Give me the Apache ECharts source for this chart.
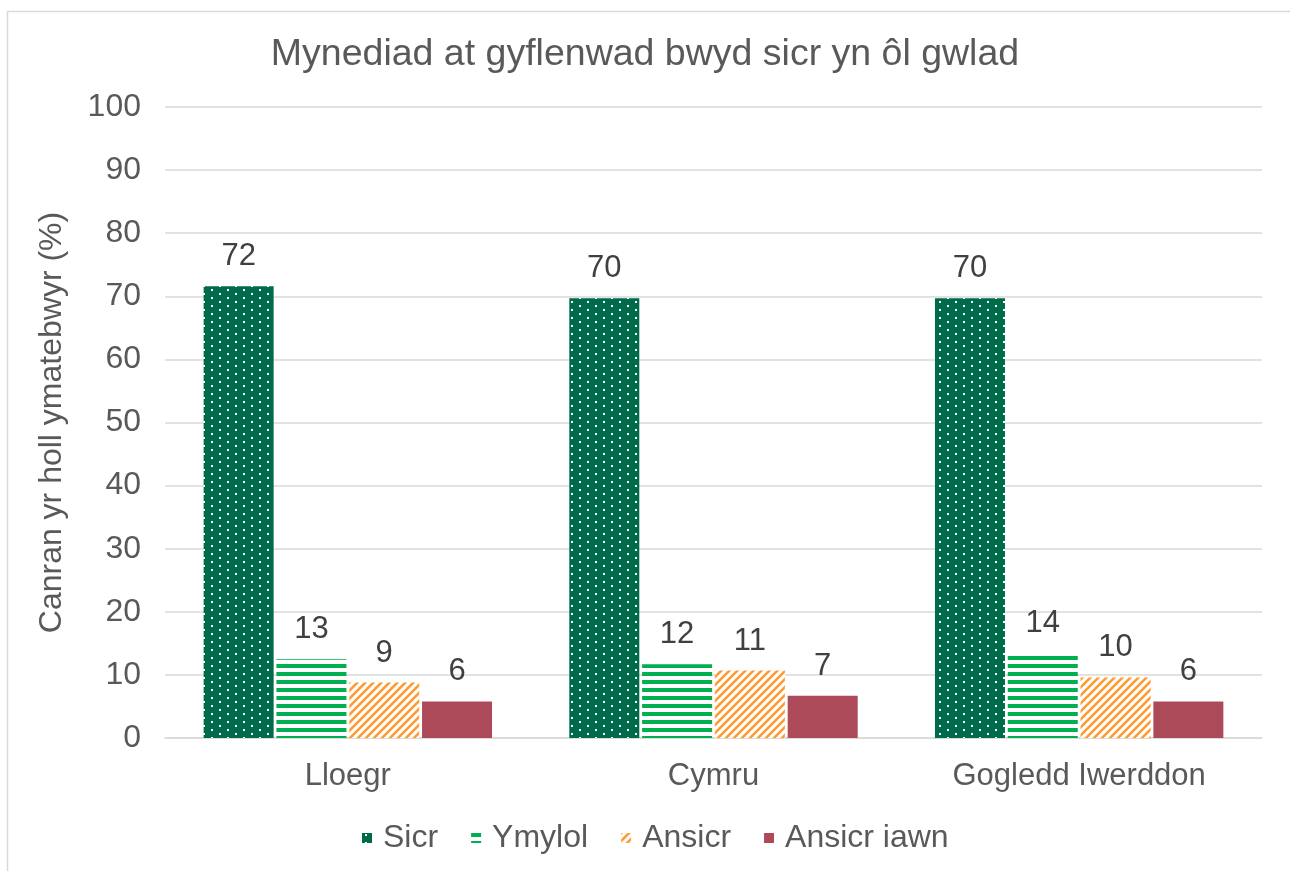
<!DOCTYPE html>
<html lang="cy">
<head>
<meta charset="UTF-8">
<script src="https://cdn.jsdelivr.net/npm/echarts@6/dist/echarts.min.js"></script>
<style>
  html, body { margin: 0; padding: 0; background: #fff; }
  #chart { width: 1290px; height: 871px; }
</style>
</head>
<body>
<div id="chart"></div>
<script>
// data
const countries = ['Lloegr', 'Cymru', 'Gogledd Iwerddon'];
const seriesNames = ['Sicr', 'Ymylol', 'Ansicr', 'Ansicr iawn'];
const sicr = [71.6, 69.7, 69.7];
const ymylol = [12.5, 11.7, 13.5];
const ansicr = [8.8, 10.7, 9.6];
const ansicrIawn = [5.8, 6.7, 5.8];
const yTicks = [0, 10, 20, 30, 40, 50, 60, 70, 80, 90, 100];

// patterns (canvas tiles)
function tile(w, h, draw) {
  const c = document.createElement('canvas');
  c.width = w; c.height = h;
  draw(c.getContext('2d'));
  return { image: c, repeat: 'repeat' };
}
const dotFill = tile(16, 8, function (ctx) {
  ctx.fillStyle = '#006B4A';
  ctx.fillRect(0, 0, 16, 8);
  ctx.fillStyle = '#ffffff';
  ctx.fillRect(3, 1, 2, 2);
  ctx.fillRect(11, 5, 2, 2);
});
const stripeFill = tile(8, 8, function (ctx) {
  ctx.fillStyle = '#ffffff';
  ctx.fillRect(0, 0, 8, 8);
  ctx.fillStyle = '#00B050';
  ctx.fillRect(0, 0, 8, 4);
});
const diagFill = tile(8, 8, function (ctx) {
  ctx.fillStyle = '#ffffff';
  ctx.fillRect(0, 0, 8, 8);
  ctx.strokeStyle = '#FF9A2E';
  ctx.lineWidth = 2.6;
  ctx.beginPath();
  ctx.moveTo(-2, 10); ctx.lineTo(10, -2);
  ctx.moveTo(-6, 6); ctx.lineTo(6, -6);
  ctx.moveTo(2, 14); ctx.lineTo(14, 2);
  ctx.stroke();
});
const fills = [dotFill, stripeFill, diagFill, '#AD4A5A'];
const values = [sicr, ymylol, ansicr, ansicrIawn];

const chart = echarts.init(document.getElementById('chart'));
chart.setOption({
  animation: false,
  backgroundColor: '#fff',
  textStyle: { fontFamily: 'Liberation Sans, Arial, sans-serif' },
  graphic: [{
    type: 'rect', left: 5, top: 9,
    shape: { width: 1400, height: 1000 },
    style: { fill: 'none', stroke: '#d9d9d9', lineWidth: 1.5 },
    silent: true
  }],
  title: {
    text: 'Mynediad at gyflenwad bwyd sicr yn ôl gwlad',
    left: 'center', top: 31,
    textStyle: { fontSize: 37.5, fontWeight: 'normal', color: '#595959' }
  },
  legend: {
    bottom: 12, left: 357,
    itemWidth: 10, itemHeight: 10, itemGap: 33,
    icon: 'rect',
    textStyle: { fontSize: 32, color: '#595959', padding: [0, 0, 0, 6] },
    data: seriesNames
  },
  grid: { left: 165, right: 28, top: 107, bottom: 133 },
  xAxis: {
    type: 'category',
    data: countries,
    axisLine: { lineStyle: { color: '#d9d9d9', width: 1.5 } },
    axisTick: { length: 8, lineStyle: { color: '#d9d9d9', width: 1.5 } },
    axisLabel: { fontSize: 31, color: '#595959', margin: 23 }
  },
  yAxis: {
    type: 'value',
    min: yTicks[0], max: yTicks[yTicks.length - 1], interval: 10,
    name: 'Canran yr holl ymatebwyr (%)',
    nameLocation: 'middle', nameGap: 97,
    nameTextStyle: { fontSize: 32, color: '#595959' },
    axisLine: { show: false },
    axisTick: { show: false },
    axisLabel: { fontSize: 32, color: '#595959', margin: 24 },
    splitLine: { lineStyle: { color: '#d9d9d9', width: 1.5 } }
  },
  series: seriesNames.map(function (name, i) {
    return {
      name: name,
      type: 'bar',
      data: values[i],
      barWidth: 70,
      barGap: '4%',
      itemStyle: { color: fills[i] },
      label: {
        show: true, position: 'top', distance: 14,
        fontSize: 31, color: '#404040',
        formatter: function (p) { return Math.round(p.value); }
      }
    };
  })
});
</script>
</body>
</html>
